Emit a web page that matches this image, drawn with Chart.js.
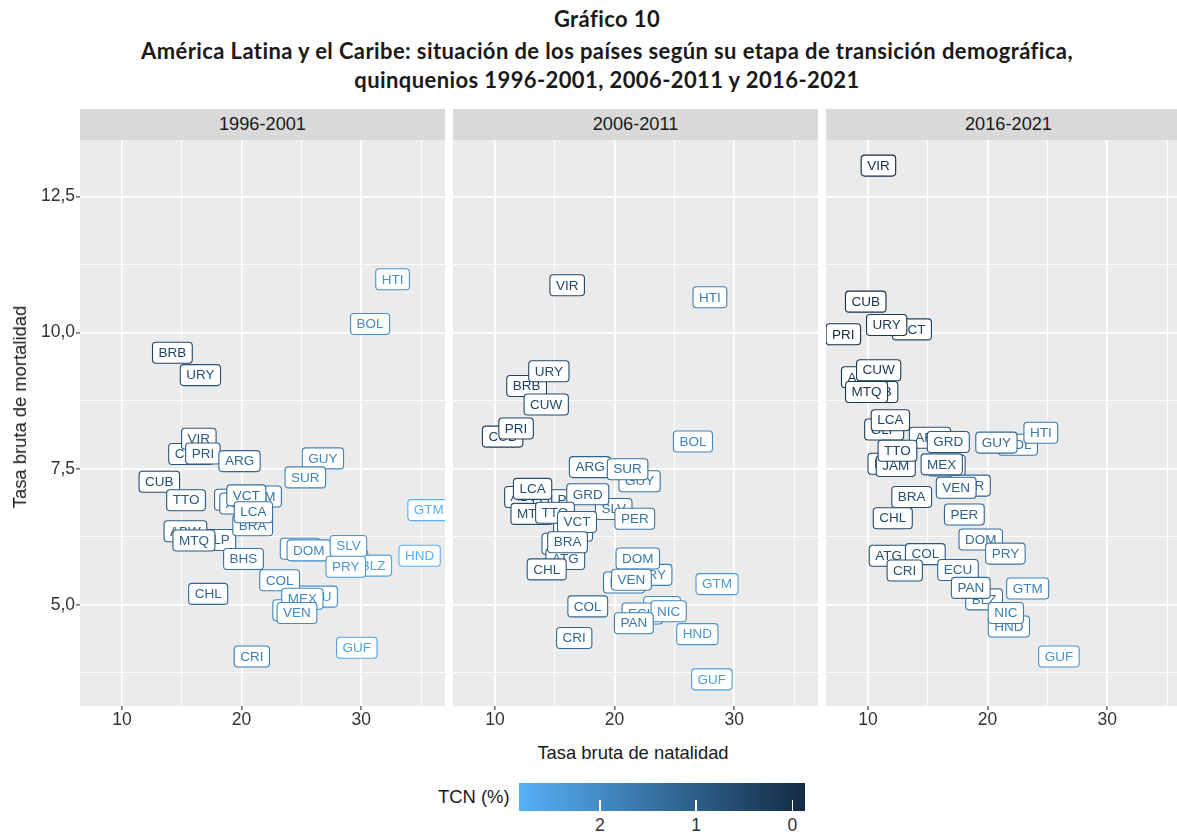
<!DOCTYPE html>
<html lang="es">
<head>
<meta charset="utf-8">
<title>Gráfico 10</title>
<script src="https://cdn.jsdelivr.net/npm/chart.js@4.4.1/dist/chart.umd.min.js"></script>
<style>
  html, body { margin: 0; padding: 0; background: #fff; }
  #pagina { position: relative; width: 1177px; height: 832px; overflow: hidden;
            font-family: "Liberation Sans", Arial, sans-serif; color: #1a1a1a; }
  .titulo { position: absolute; left: 0; width: 1214px; text-align: center;
            font-family: Lato, "Open Sans", sans-serif; font-weight: bold; font-size: 22px;
            letter-spacing: 0.4px; line-height: 26px; color: #1a1a1a; white-space: nowrap; }
  .franja { position: absolute; top: 109px; height: 31px; width: 365px; background: #d9d9d9;
            font-size: 18.2px; line-height: 31px; text-align: center; color: #1a1a1a; }
  canvas { position: absolute; top: 140px; }
  #ytitulo { position: absolute; left: 20px; top: 407px; font-size: 18.4px; white-space: nowrap;
             transform: translate(-50%, -50%) rotate(-90deg); }
  #xtitulo { position: absolute; left: 633px; top: 753px; font-size: 18.4px; white-space: nowrap;
             transform: translate(-50%, -50%); }
  #leyenda-titulo { position: absolute; left: 438px; top: 786px; font-size: 18.4px; line-height: 22px; }
  #barra { position: absolute; left: 519px; top: 783px; width: 286px; height: 28px; }
  .marca { position: absolute; top: 800px; width: 1.5px; height: 11px; background: #fff; }
  .marca-txt { position: absolute; top: 815px; font-size: 17.5px; line-height: 21px; transform: translateX(-50%); color: #333; }
</style>
</head>
<body>
<div id="pagina">
  <div class="titulo" style="top:6px">Gráfico 10</div>
  <div class="titulo" style="top:38px">América Latina y el Caribe: situación de los países según su etapa de transición demográfica,</div>
  <div class="titulo" style="top:67px">quinquenios 1996-2001, 2006-2011 y 2016-2021</div>

  <div class="franja" style="left:80px">1996-2001</div>
  <div class="franja" style="left:453px">2006-2011</div>
  <div class="franja" style="left:826px">2016-2021</div>

  <canvas id="g1" width="445" height="596" style="left:0px"></canvas>
  <canvas id="g2" width="365" height="596" style="left:453px"></canvas>
  <canvas id="g3" width="365" height="596" style="left:826px"></canvas>

  <div id="ytitulo">Tasa bruta de mortalidad</div>
  <div id="xtitulo">Tasa bruta de natalidad</div>

  <div id="leyenda-titulo">TCN (%)</div>
  <div id="barra"></div>
  <div id="marcas"></div>
</div>

<script>
// quinquenios (paneles)
const periodos = ['1996-2001', '2006-2011', '2016-2021'];

// 1996-2001 (las etiquetas tapadas van primero)
const paises1996 = ['CUW','GRD','ATG','JAM','PER','NIC','ECU','PAN','GLP','ABW','BLZ','BRA',
  'HTI','BOL','BRB','URY','VIR','PRI','ARG','GUY','SUR','CUB','TTO','VCT','LCA','MTQ','BHS',
  'DOM','SLV','PRY','HND','GTM','COL','CHL','MEX','VEN','CRI','GUF'];
const natalidad1996 = [15.76,19.5,19.8,21.7,24.9,29.07,26.32,24.23,17.88,15.31,31.0,20.93,
  32.62,30.74,14.22,16.56,16.43,16.77,19.83,26.8,25.33,13.13,15.36,20.4,20.99,16.02,20.16,
  25.62,28.93,28.71,34.88,35.65,23.18,17.21,25.08,24.63,20.86,29.63];
const mortalidad1996 = [7.77,6.93,6.86,6.99,6.03,5.82,5.15,4.9,6.19,6.35,5.72,6.46,
  10.98,10.16,9.63,9.22,8.05,7.78,7.64,7.69,7.34,7.26,6.92,7.01,6.7,6.18,5.84,
  6.0,6.08,5.7,5.9,6.74,5.45,5.2,5.11,4.85,4.05,4.21];

// 2006-2011
const paises2006 = ['MEX','BLZ','BHS','ABW','GLP','JAM','ATG','MTQ','CUB','BRB','GUY','SLV','PRY','ECU',
  'VIR','HTI','URY','CUW','PRI','BOL','ARG','SUR','LCA','GRD','PER','TTO','VCT','BRA','CHL',
  'DOM','VEN','GTM','COL','NIC','PAN','CRI','HND','GUF'];
const natalidad2006 = [20.8,23.97,15.6,12.6,14.85,16.53,15.88,13.1,10.65,12.65,22.09,19.93,23.14,22.32,
  16.04,27.97,14.51,14.29,11.77,26.55,17.95,21.09,13.15,17.76,21.69,15.02,16.86,16.07,14.33,
  21.94,21.41,28.56,17.76,24.52,21.61,16.63,26.92,28.13];
const mortalidad2006 = [5.41,4.96,6.12,6.98,6.92,6.36,5.84,6.67,8.09,9.02,7.27,6.76,5.55,4.84,
  10.87,10.65,9.29,8.68,8.24,8.0,7.53,7.49,7.13,7.03,6.58,6.69,6.52,6.15,5.65,
  5.85,5.46,5.38,4.97,4.88,4.66,4.39,4.46,3.63];

// 2016-2021
const paises2016 = ['ABW','BRB','GLP','VCT','BOL','BHS','SLV','SUR','BLZ','HND','ARG','ATG',
  'VIR','CUB','PRI','URY','CUW','MTQ','LCA','GRD','GUY','HTI','JAM','TTO','MEX','VEN','BRA',
  'CHL','PER','DOM','PRY','COL','CRI','ECU','PAN','GTM','NIC','GUF'];
const natalidad2016 = [9.58,10.84,11.36,13.68,22.54,11.67,16.6,18.54,19.71,21.78,15.19,11.73,
  10.88,9.82,7.95,11.57,10.9,9.89,11.88,16.72,20.74,24.45,12.33,12.47,16.17,17.38,13.66,
  12.08,18.06,19.43,21.49,14.8,13.08,17.53,18.6,23.35,21.53,25.96];
const mortalidad2016 = [9.18,8.91,8.22,10.06,7.94,7.59,7.56,7.19,5.1,4.6,8.07,5.9,
  13.07,10.57,9.97,10.14,9.31,8.91,8.39,7.99,7.98,8.16,7.55,7.83,7.58,7.15,6.98,
  6.59,6.66,6.2,5.94,5.93,5.63,5.64,5.31,5.3,4.85,4.05];

// ejes y escala de color (TCN = natalidad - mortalidad, en %)
const rangoX = [6.5, 37.0];
const rangoY = [3.14, 13.54];
const tcnLimites = [-0.13, 2.84];
const tcnMarcas = [2, 1, 0];
const colorBajo = [0x13, 0x2B, 0x43];
const colorAlto = [0x56, 0xB1, 0xF7];
const fuente = '"Liberation Sans", Arial, sans-serif';

function colorTCN(tcn) {
  let t = (tcn - tcnLimites[0]) / (tcnLimites[1] - tcnLimites[0]);
  t = Math.max(0, Math.min(1, t));
  const c = colorBajo.map((v, i) => Math.round(v + (colorAlto[i] - v) * t));
  return `rgb(${c[0]},${c[1]},${c[2]})`;
}

// fondo gris del panel
const fondoPanel = {
  id: 'fondoPanel',
  beforeDraw(chart) {
    const a = chart.chartArea, ctx = chart.ctx;
    ctx.save();
    ctx.fillStyle = '#ebebeb';
    ctx.fillRect(a.left, a.top, a.right - a.left, a.bottom - a.top);
    ctx.restore();
  }
};

// etiquetas tipo geom_label en cada punto
const etiquetas = {
  id: 'etiquetas',
  afterDatasetsDraw(chart) {
    const ctx = chart.ctx, a = chart.chartArea;
    const meta = chart.getDatasetMeta(0);
    const datos = chart.data.datasets[0].data;
    ctx.save();
    ctx.beginPath();
    ctx.rect(a.left, a.top, a.right - a.left, a.bottom - a.top);
    ctx.clip();
    ctx.font = '13.5px ' + fuente;
    ctx.textAlign = 'center';
    ctx.textBaseline = 'middle';
    meta.data.forEach((pt, i) => {
      const d = datos[i];
      const col = colorTCN((d.x - d.y) / 10);
      const w = ctx.measureText(d.codigo).width + 12, h = 21;
      const x0 = pt.x - w / 2, y0 = pt.y - h / 2;
      ctx.beginPath();
      if (ctx.roundRect) ctx.roundRect(x0, y0, w, h, 3.5); else ctx.rect(x0, y0, w, h);
      ctx.fillStyle = '#fff';
      ctx.fill();
      ctx.lineWidth = 1.1;
      ctx.strokeStyle = col;
      ctx.stroke();
      ctx.fillStyle = col;
      ctx.fillText(d.codigo, pt.x, pt.y + 0.5);
    });
    ctx.restore();
  }
};

function esMayor(v, paso) {
  return Math.abs(v / paso - Math.round(v / paso)) < 1e-6;
}

function crearPanel(id, paises, nat, mort, conEjeY) {
  const datos = paises.map((c, i) => ({ x: nat[i], y: mort[i], codigo: c }));
  return new Chart(document.getElementById(id), {
    type: 'scatter',
    data: { datasets: [{ data: datos, pointRadius: 0, pointHoverRadius: 0 }] },
    options: {
      responsive: false,
      animation: false,
      devicePixelRatio: 1,
      events: [],
      layout: { padding: 0 },
      plugins: { legend: { display: false }, tooltip: { enabled: false } },
      scales: {
        x: {
          type: 'linear', min: rangoX[0], max: rangoX[1],
          border: { display: false },
          grid: {
            color: '#ffffff',
            lineWidth: c => (c.tick && esMayor(c.tick.value, 10)) ? 1.8 : 0.9,
            tickColor: c => (c.tick && esMayor(c.tick.value, 10)) ? '#333333' : 'rgba(0,0,0,0)',
            tickLength: 4, tickWidth: 1.1
          },
          ticks: {
            stepSize: 5, includeBounds: false, autoSkip: false, maxRotation: 0,
            color: '#333333', font: { size: 17.5, family: fuente },
            padding: 0,
            callback: v => esMayor(v, 10) ? String(v) : ''
          },
          afterFit(s) { s.height = 30; s.paddingLeft = 0; s.paddingRight = 0; }
        },
        y: {
          type: 'linear', min: rangoY[0], max: rangoY[1],
          border: { display: false },
          grid: {
            color: '#ffffff',
            lineWidth: c => (c.tick && esMayor(c.tick.value, 2.5)) ? 1.8 : 0.9,
            drawTicks: conEjeY,
            tickColor: c => (c.tick && esMayor(c.tick.value, 2.5)) ? '#333333' : 'rgba(0,0,0,0)',
            tickLength: 4, tickWidth: 1.1
          },
          ticks: {
            display: conEjeY,
            stepSize: 1.25, includeBounds: false, autoSkip: false,
            color: '#333333', font: { size: 17.5, family: fuente },
            padding: 1,
            callback: v => esMayor(v, 2.5) ? v.toFixed(1).replace('.', ',') : ''
          },
          afterFit(s) { s.width = conEjeY ? 80 : 0; s.paddingTop = 0; s.paddingBottom = 0; }
        }
      }
    },
    plugins: [fondoPanel, etiquetas]
  });
}

crearPanel('g1', paises1996, natalidad1996, mortalidad1996, true);
crearPanel('g2', paises2006, natalidad2006, mortalidad2006, false);
crearPanel('g3', paises2016, natalidad2016, mortalidad2016, false);

// barra de color de la leyenda (TCN alto a la izquierda)
const barra = document.getElementById('barra');
barra.style.background = `linear-gradient(to right, ${colorTCN(tcnLimites[1])}, ${colorTCN(tcnLimites[0])})`;
const marcas = document.getElementById('marcas');
tcnMarcas.forEach(v => {
  const px = 519 + (tcnLimites[1] - v) / (tcnLimites[1] - tcnLimites[0]) * 286;
  const m = document.createElement('div');
  m.className = 'marca';
  m.style.left = (px - 0.75) + 'px';
  marcas.appendChild(m);
  const t = document.createElement('div');
  t.className = 'marca-txt';
  t.style.left = px + 'px';
  t.textContent = v;
  marcas.appendChild(t);
});
</script>
</body>
</html>
